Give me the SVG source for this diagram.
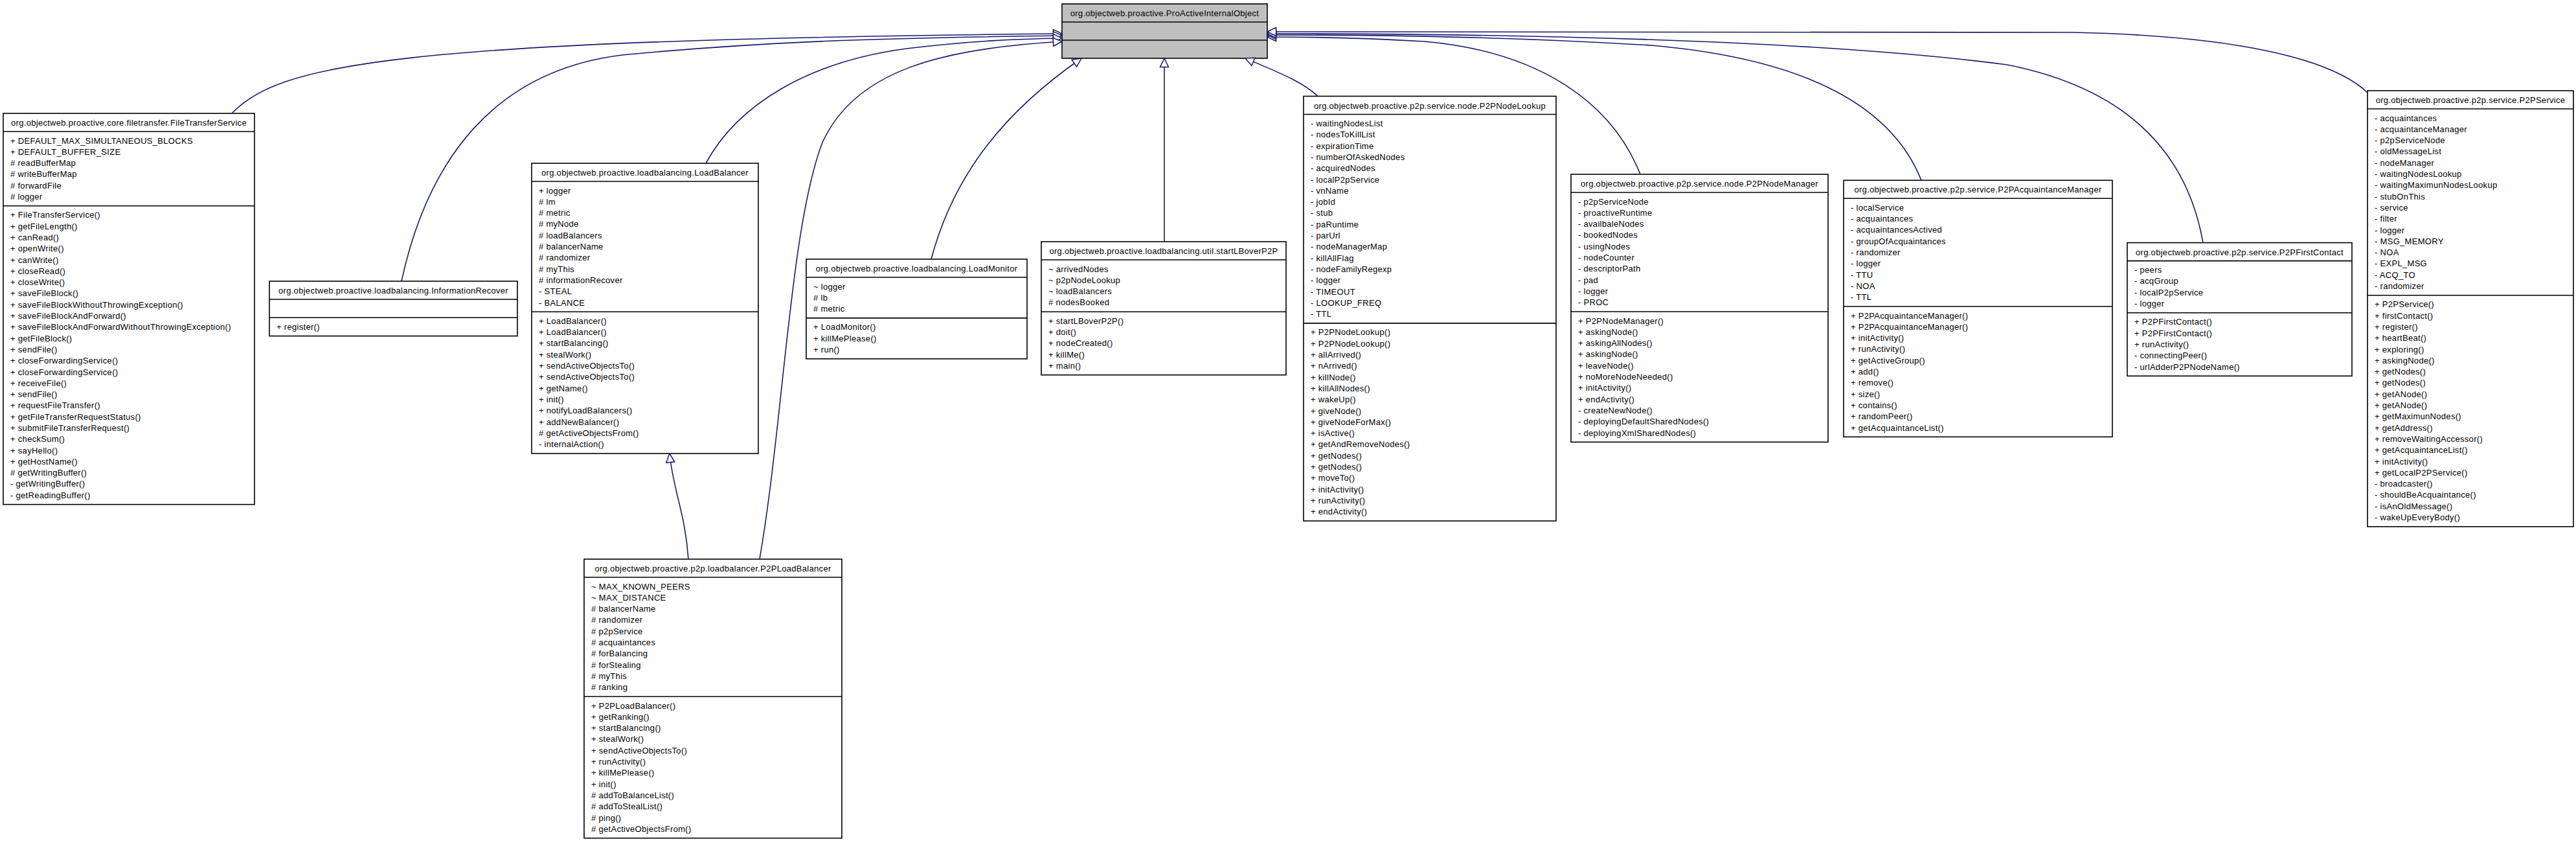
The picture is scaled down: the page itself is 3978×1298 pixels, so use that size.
<svg xmlns="http://www.w3.org/2000/svg" width="3978" height="1298" viewBox="0 0 3978 1298">
<style>
.bx{fill:#fff;stroke:#000;stroke-width:1.6}
.gr{fill:#bfbfbf;stroke:#000;stroke-width:1.6}
.dv{stroke:#000;stroke-width:1.6}
text{font-family:"Liberation Sans",Arial,sans-serif;font-size:13px;letter-spacing:0.3px;fill:#000}
.t{text-anchor:middle}
.e{fill:none;stroke:#191970;stroke-width:1.6}
</style>
<defs>
<marker id="gen" markerUnits="userSpaceOnUse" markerWidth="18" markerHeight="16" refX="15" refY="8" orient="auto">
<path d="M1.5,1.5 L15,8 L1.5,14.5 Z" fill="#fff" stroke="#191970" stroke-width="1.5"/>
</marker>
</defs>
<rect width="3978" height="1298" fill="#fff"/>

<g id="ProActiveInternalObject">
<rect class="gr" x="1640" y="6" width="317" height="84"/>
<line class="dv" x1="1640" y1="34" x2="1957" y2="34"/>
<line class="dv" x1="1640" y1="62" x2="1957" y2="62"/>
<text class="t" x="1798.5" y="25">org.objectweb.proactive.ProActiveInternalObject</text>
</g>

<g id="FileTransferService">
<rect class="bx" x="5" y="175" width="388" height="603.6"/>
<line class="dv" x1="5" y1="203" x2="393" y2="203"/>
<line class="dv" x1="5" y1="317.8" x2="393" y2="317.8"/>
<text class="t" x="199" y="194">org.objectweb.proactive.core.filetransfer.FileTransferService</text>
<text x="16" y="221.5"><tspan x="16">+ DEFAULT_MAX_SIMULTANEOUS_BLOCKS</tspan><tspan x="16" dy="17.3">+ DEFAULT_BUFFER_SIZE</tspan><tspan x="16" dy="17.3"># readBufferMap</tspan><tspan x="16" dy="17.3"># writeBufferMap</tspan><tspan x="16" dy="17.3"># forwardFile</tspan><tspan x="16" dy="17.3"># logger</tspan></text>
<text x="16" y="336.3"><tspan x="16">+ FileTransferService()</tspan><tspan x="16" dy="17.3">+ getFileLength()</tspan><tspan x="16" dy="17.3">+ canRead()</tspan><tspan x="16" dy="17.3">+ openWrite()</tspan><tspan x="16" dy="17.3">+ canWrite()</tspan><tspan x="16" dy="17.3">+ closeRead()</tspan><tspan x="16" dy="17.3">+ closeWrite()</tspan><tspan x="16" dy="17.3">+ saveFileBlock()</tspan><tspan x="16" dy="17.3">+ saveFileBlockWithoutThrowingException()</tspan><tspan x="16" dy="17.3">+ saveFileBlockAndForward()</tspan><tspan x="16" dy="17.3">+ saveFileBlockAndForwardWithoutThrowingException()</tspan><tspan x="16" dy="17.3">+ getFileBlock()</tspan><tspan x="16" dy="17.3">+ sendFile()</tspan><tspan x="16" dy="17.3">+ closeForwardingService()</tspan><tspan x="16" dy="17.3">+ closeForwardingService()</tspan><tspan x="16" dy="17.3">+ receiveFile()</tspan><tspan x="16" dy="17.3">+ sendFile()</tspan><tspan x="16" dy="17.3">+ requestFileTransfer()</tspan><tspan x="16" dy="17.3">+ getFileTransferRequestStatus()</tspan><tspan x="16" dy="17.3">+ submitFileTransferRequest()</tspan><tspan x="16" dy="17.3">+ checkSum()</tspan><tspan x="16" dy="17.3">+ sayHello()</tspan><tspan x="16" dy="17.3">+ getHostName()</tspan><tspan x="16" dy="17.3"># getWritingBuffer()</tspan><tspan x="16" dy="17.3">- getWritingBuffer()</tspan><tspan x="16" dy="17.3">- getReadingBuffer()</tspan></text>
</g>

<g id="InformationRecover">
<rect class="bx" x="416" y="434" width="383" height="84.6"/>
<line class="dv" x1="416" y1="462" x2="799" y2="462"/>
<line class="dv" x1="416" y1="490.3" x2="799" y2="490.3"/>
<text class="t" x="607.5" y="453">org.objectweb.proactive.loadbalancing.InformationRecover</text>
<text x="427" y="508.8">+ register()</text>
</g>

<g id="LoadBalancer">
<rect class="bx" x="821" y="252" width="350" height="447.9"/>
<line class="dv" x1="821" y1="280" x2="1171" y2="280"/>
<line class="dv" x1="821" y1="481.3" x2="1171" y2="481.3"/>
<text class="t" x="996" y="271">org.objectweb.proactive.loadbalancing.LoadBalancer</text>
<text x="832" y="298.5"><tspan x="832">+ logger</tspan><tspan x="832" dy="17.3"># lm</tspan><tspan x="832" dy="17.3"># metric</tspan><tspan x="832" dy="17.3"># myNode</tspan><tspan x="832" dy="17.3"># loadBalancers</tspan><tspan x="832" dy="17.3"># balancerName</tspan><tspan x="832" dy="17.3"># randomizer</tspan><tspan x="832" dy="17.3"># myThis</tspan><tspan x="832" dy="17.3"># informationRecover</tspan><tspan x="832" dy="17.3">- STEAL</tspan><tspan x="832" dy="17.3">- BALANCE</tspan></text>
<text x="832" y="499.8"><tspan x="832">+ LoadBalancer()</tspan><tspan x="832" dy="17.3">+ LoadBalancer()</tspan><tspan x="832" dy="17.3">+ startBalancing()</tspan><tspan x="832" dy="17.3">+ stealWork()</tspan><tspan x="832" dy="17.3">+ sendActiveObjectsTo()</tspan><tspan x="832" dy="17.3">+ sendActiveObjectsTo()</tspan><tspan x="832" dy="17.3">+ getName()</tspan><tspan x="832" dy="17.3">+ init()</tspan><tspan x="832" dy="17.3">+ notifyLoadBalancers()</tspan><tspan x="832" dy="17.3">+ addNewBalancer()</tspan><tspan x="832" dy="17.3"># getActiveObjectsFrom()</tspan><tspan x="832" dy="17.3">- internalAction()</tspan></text>
</g>

<g id="P2PLoadBalancer">
<rect class="bx" x="902" y="863" width="398" height="430.6"/>
<line class="dv" x1="902" y1="891" x2="1300" y2="891"/>
<line class="dv" x1="902" y1="1075" x2="1300" y2="1075"/>
<text class="t" x="1101" y="882">org.objectweb.proactive.p2p.loadbalancer.P2PLoadBalancer</text>
<text x="913" y="909.5"><tspan x="913">~ MAX_KNOWN_PEERS</tspan><tspan x="913" dy="17.3">~ MAX_DISTANCE</tspan><tspan x="913" dy="17.3"># balancerName</tspan><tspan x="913" dy="17.3"># randomizer</tspan><tspan x="913" dy="17.3"># p2pService</tspan><tspan x="913" dy="17.3"># acquaintances</tspan><tspan x="913" dy="17.3"># forBalancing</tspan><tspan x="913" dy="17.3"># forStealing</tspan><tspan x="913" dy="17.3"># myThis</tspan><tspan x="913" dy="17.3"># ranking</tspan></text>
<text x="913" y="1093.5"><tspan x="913">+ P2PLoadBalancer()</tspan><tspan x="913" dy="17.3">+ getRanking()</tspan><tspan x="913" dy="17.3">+ startBalancing()</tspan><tspan x="913" dy="17.3">+ stealWork()</tspan><tspan x="913" dy="17.3">+ sendActiveObjectsTo()</tspan><tspan x="913" dy="17.3">+ runActivity()</tspan><tspan x="913" dy="17.3">+ killMePlease()</tspan><tspan x="913" dy="17.3">+ init()</tspan><tspan x="913" dy="17.3"># addToBalanceList()</tspan><tspan x="913" dy="17.3"># addToStealList()</tspan><tspan x="913" dy="17.3"># ping()</tspan><tspan x="913" dy="17.3"># getActiveObjectsFrom()</tspan></text>
</g>

<g id="LoadMonitor">
<rect class="bx" x="1245" y="400" width="341" height="153.8"/>
<line class="dv" x1="1245" y1="428" x2="1586" y2="428"/>
<line class="dv" x1="1245" y1="490.9" x2="1586" y2="490.9"/>
<text class="t" x="1415.5" y="419">org.objectweb.proactive.loadbalancing.LoadMonitor</text>
<text x="1256" y="446.5"><tspan x="1256">~ logger</tspan><tspan x="1256" dy="17.3"># lb</tspan><tspan x="1256" dy="17.3"># metric</tspan></text>
<text x="1256" y="509.4"><tspan x="1256">+ LoadMonitor()</tspan><tspan x="1256" dy="17.3">+ killMePlease()</tspan><tspan x="1256" dy="17.3">+ run()</tspan></text>
</g>

<g id="startLBoverP2P">
<rect class="bx" x="1608" y="373" width="378" height="205.7"/>
<line class="dv" x1="1608" y1="401" x2="1986" y2="401"/>
<line class="dv" x1="1608" y1="481.2" x2="1986" y2="481.2"/>
<text class="t" x="1797" y="392">org.objectweb.proactive.loadbalancing.util.startLBoverP2P</text>
<text x="1619" y="419.5"><tspan x="1619">~ arrivedNodes</tspan><tspan x="1619" dy="17.3">~ p2pNodeLookup</tspan><tspan x="1619" dy="17.3">~ loadBalancers</tspan><tspan x="1619" dy="17.3"># nodesBooked</tspan></text>
<text x="1619" y="499.7"><tspan x="1619">+ startLBoverP2P()</tspan><tspan x="1619" dy="17.3">+ doit()</tspan><tspan x="1619" dy="17.3">+ nodeCreated()</tspan><tspan x="1619" dy="17.3">+ killMe()</tspan><tspan x="1619" dy="17.3">+ main()</tspan></text>
</g>

<g id="P2PNodeLookup">
<rect class="bx" x="2013" y="148.5" width="390" height="655.5"/>
<line class="dv" x1="2013" y1="176.5" x2="2403" y2="176.5"/>
<line class="dv" x1="2013" y1="498.9" x2="2403" y2="498.9"/>
<text class="t" x="2208" y="167.5">org.objectweb.proactive.p2p.service.node.P2PNodeLookup</text>
<text x="2024" y="195"><tspan x="2024">- waitingNodesList</tspan><tspan x="2024" dy="17.3">- nodesToKillList</tspan><tspan x="2024" dy="17.3">- expirationTime</tspan><tspan x="2024" dy="17.3">- numberOfAskedNodes</tspan><tspan x="2024" dy="17.3">- acquiredNodes</tspan><tspan x="2024" dy="17.3">- localP2pService</tspan><tspan x="2024" dy="17.3">- vnName</tspan><tspan x="2024" dy="17.3">- jobId</tspan><tspan x="2024" dy="17.3">- stub</tspan><tspan x="2024" dy="17.3">- paRuntime</tspan><tspan x="2024" dy="17.3">- parUrl</tspan><tspan x="2024" dy="17.3">- nodeManagerMap</tspan><tspan x="2024" dy="17.3">- killAllFlag</tspan><tspan x="2024" dy="17.3">- nodeFamilyRegexp</tspan><tspan x="2024" dy="17.3">- logger</tspan><tspan x="2024" dy="17.3">- TIMEOUT</tspan><tspan x="2024" dy="17.3">- LOOKUP_FREQ</tspan><tspan x="2024" dy="17.3">- TTL</tspan></text>
<text x="2024" y="517.4"><tspan x="2024">+ P2PNodeLookup()</tspan><tspan x="2024" dy="17.3">+ P2PNodeLookup()</tspan><tspan x="2024" dy="17.3">+ allArrived()</tspan><tspan x="2024" dy="17.3">+ nArrived()</tspan><tspan x="2024" dy="17.3">+ killNode()</tspan><tspan x="2024" dy="17.3">+ killAllNodes()</tspan><tspan x="2024" dy="17.3">+ wakeUp()</tspan><tspan x="2024" dy="17.3">+ giveNode()</tspan><tspan x="2024" dy="17.3">+ giveNodeForMax()</tspan><tspan x="2024" dy="17.3">+ isActive()</tspan><tspan x="2024" dy="17.3">+ getAndRemoveNodes()</tspan><tspan x="2024" dy="17.3">+ getNodes()</tspan><tspan x="2024" dy="17.3">+ getNodes()</tspan><tspan x="2024" dy="17.3">+ moveTo()</tspan><tspan x="2024" dy="17.3">+ initActivity()</tspan><tspan x="2024" dy="17.3">+ runActivity()</tspan><tspan x="2024" dy="17.3">+ endActivity()</tspan></text>
</g>

<g id="P2PNodeManager">
<rect class="bx" x="2426" y="269" width="397" height="413.3"/>
<line class="dv" x1="2426" y1="297" x2="2823" y2="297"/>
<line class="dv" x1="2426" y1="481" x2="2823" y2="481"/>
<text class="t" x="2624.5" y="288">org.objectweb.proactive.p2p.service.node.P2PNodeManager</text>
<text x="2437" y="315.5"><tspan x="2437">- p2pServiceNode</tspan><tspan x="2437" dy="17.3">- proactiveRuntime</tspan><tspan x="2437" dy="17.3">- availbaleNodes</tspan><tspan x="2437" dy="17.3">- bookedNodes</tspan><tspan x="2437" dy="17.3">- usingNodes</tspan><tspan x="2437" dy="17.3">- nodeCounter</tspan><tspan x="2437" dy="17.3">- descriptorPath</tspan><tspan x="2437" dy="17.3">- pad</tspan><tspan x="2437" dy="17.3">- logger</tspan><tspan x="2437" dy="17.3">- PROC</tspan></text>
<text x="2437" y="499.5"><tspan x="2437">+ P2PNodeManager()</tspan><tspan x="2437" dy="17.3">+ askingNode()</tspan><tspan x="2437" dy="17.3">+ askingAllNodes()</tspan><tspan x="2437" dy="17.3">+ askingNode()</tspan><tspan x="2437" dy="17.3">+ leaveNode()</tspan><tspan x="2437" dy="17.3">+ noMoreNodeNeeded()</tspan><tspan x="2437" dy="17.3">+ initActivity()</tspan><tspan x="2437" dy="17.3">+ endActivity()</tspan><tspan x="2437" dy="17.3">- createNewNode()</tspan><tspan x="2437" dy="17.3">- deployingDefaultSharedNodes()</tspan><tspan x="2437" dy="17.3">- deployingXmlSharedNodes()</tspan></text>
</g>

<g id="P2PAcquaintanceManager">
<rect class="bx" x="2847" y="278.3" width="415" height="396"/>
<line class="dv" x1="2847" y1="306.3" x2="3262" y2="306.3"/>
<line class="dv" x1="2847" y1="473" x2="3262" y2="473"/>
<text class="t" x="3054.5" y="297.3">org.objectweb.proactive.p2p.service.P2PAcquaintanceManager</text>
<text x="2858" y="324.8"><tspan x="2858">- localService</tspan><tspan x="2858" dy="17.3">- acquaintances</tspan><tspan x="2858" dy="17.3">- acquaintancesActived</tspan><tspan x="2858" dy="17.3">- groupOfAcquaintances</tspan><tspan x="2858" dy="17.3">- randomizer</tspan><tspan x="2858" dy="17.3">- logger</tspan><tspan x="2858" dy="17.3">- TTU</tspan><tspan x="2858" dy="17.3">- NOA</tspan><tspan x="2858" dy="17.3">- TTL</tspan></text>
<text x="2858" y="491.5"><tspan x="2858">+ P2PAcquaintanceManager()</tspan><tspan x="2858" dy="17.3">+ P2PAcquaintanceManager()</tspan><tspan x="2858" dy="17.3">+ initActivity()</tspan><tspan x="2858" dy="17.3">+ runActivity()</tspan><tspan x="2858" dy="17.3">+ getActiveGroup()</tspan><tspan x="2858" dy="17.3">+ add()</tspan><tspan x="2858" dy="17.3">+ remove()</tspan><tspan x="2858" dy="17.3">+ size()</tspan><tspan x="2858" dy="17.3">+ contains()</tspan><tspan x="2858" dy="17.3">+ randomPeer()</tspan><tspan x="2858" dy="17.3">+ getAcquaintanceList()</tspan></text>
</g>

<g id="P2PFirstContact">
<rect class="bx" x="3285" y="374.6" width="347" height="205.7"/>
<line class="dv" x1="3285" y1="402.6" x2="3632" y2="402.6"/>
<line class="dv" x1="3285" y1="482.8" x2="3632" y2="482.8"/>
<text class="t" x="3458.5" y="393.6">org.objectweb.proactive.p2p.service.P2PFirstContact</text>
<text x="3296" y="421.1"><tspan x="3296">- peers</tspan><tspan x="3296" dy="17.3">- acqGroup</tspan><tspan x="3296" dy="17.3">- localP2pService</tspan><tspan x="3296" dy="17.3">- logger</tspan></text>
<text x="3296" y="501.3"><tspan x="3296">+ P2PFirstContact()</tspan><tspan x="3296" dy="17.3">+ P2PFirstContact()</tspan><tspan x="3296" dy="17.3">+ runActivity()</tspan><tspan x="3296" dy="17.3">- connectingPeer()</tspan><tspan x="3296" dy="17.3">- urlAdderP2PNodeName()</tspan></text>
</g>

<g id="P2PService">
<rect class="bx" x="3656" y="140" width="318" height="672.8"/>
<line class="dv" x1="3656" y1="168" x2="3974" y2="168"/>
<line class="dv" x1="3656" y1="455.8" x2="3974" y2="455.8"/>
<text class="t" x="3815" y="159">org.objectweb.proactive.p2p.service.P2PService</text>
<text x="3667" y="186.5"><tspan x="3667">- acquaintances</tspan><tspan x="3667" dy="17.3">- acquaintanceManager</tspan><tspan x="3667" dy="17.3">- p2pServiceNode</tspan><tspan x="3667" dy="17.3">- oldMessageList</tspan><tspan x="3667" dy="17.3">- nodeManager</tspan><tspan x="3667" dy="17.3">- waitingNodesLookup</tspan><tspan x="3667" dy="17.3">- waitingMaximunNodesLookup</tspan><tspan x="3667" dy="17.3">- stubOnThis</tspan><tspan x="3667" dy="17.3">- service</tspan><tspan x="3667" dy="17.3">- filter</tspan><tspan x="3667" dy="17.3">- logger</tspan><tspan x="3667" dy="17.3">- MSG_MEMORY</tspan><tspan x="3667" dy="17.3">- NOA</tspan><tspan x="3667" dy="17.3">- EXPL_MSG</tspan><tspan x="3667" dy="17.3">- ACQ_TO</tspan><tspan x="3667" dy="17.3">- randomizer</tspan></text>
<text x="3667" y="474.3"><tspan x="3667">+ P2PService()</tspan><tspan x="3667" dy="17.3">+ firstContact()</tspan><tspan x="3667" dy="17.3">+ register()</tspan><tspan x="3667" dy="17.3">+ heartBeat()</tspan><tspan x="3667" dy="17.3">+ exploring()</tspan><tspan x="3667" dy="17.3">+ askingNode()</tspan><tspan x="3667" dy="17.3">+ getNodes()</tspan><tspan x="3667" dy="17.3">+ getNodes()</tspan><tspan x="3667" dy="17.3">+ getANode()</tspan><tspan x="3667" dy="17.3">+ getANode()</tspan><tspan x="3667" dy="17.3">+ getMaximunNodes()</tspan><tspan x="3667" dy="17.3">+ getAddress()</tspan><tspan x="3667" dy="17.3">+ removeWaitingAccessor()</tspan><tspan x="3667" dy="17.3">+ getAcquaintanceList()</tspan><tspan x="3667" dy="17.3">+ initActivity()</tspan><tspan x="3667" dy="17.3">+ getLocalP2PService()</tspan><tspan x="3667" dy="17.3">- broadcaster()</tspan><tspan x="3667" dy="17.3">- shouldBeAcquaintance()</tspan><tspan x="3667" dy="17.3">- isAnOldMessage()</tspan><tspan x="3667" dy="17.3">- wakeUpEveryBody()</tspan></text>
</g>

<g id="connectors">
<path class="e" marker-end="url(#gen)" d="M358,175 C430,100 600,62 1640,52"/>
<path class="e" marker-end="url(#gen)" d="M620,434 C660,250 760,110 960,85 C1200,62 1400,58 1640,55"/>
<path class="e" marker-end="url(#gen)" d="M1090,252 C1140,160 1250,95 1400,75 C1500,63 1570,60 1640,59"/>
<path class="e" marker-end="url(#gen)" d="M1173,863 C1210,650 1220,350 1270,220 C1320,110 1450,75 1640,64"/>
<path class="e" marker-end="url(#gen)" d="M1063,863 C1058,790 1040,760 1034,700"/>
<path class="e" marker-end="url(#gen)" d="M1438,400 C1470,280 1540,180 1670,90"/>
<path class="e" marker-end="url(#gen)" d="M1798,373 L1798,90"/>
<path class="e" marker-end="url(#gen)" d="M2035,148.5 C2010,125 1970,110 1923,90"/>
<path class="e" marker-end="url(#gen)" d="M2533,269 C2490,160 2380,80 2200,64 C2100,58 2020,57 1957,57"/>
<path class="e" marker-end="url(#gen)" d="M2967,278.3 C2920,160 2780,90 2550,70 C2300,55 2100,54 1957,54"/>
<path class="e" marker-end="url(#gen)" d="M3402,374.6 C3380,250 3300,140 3100,100 C2800,60 2300,52 1957,52"/>
<path class="e" marker-end="url(#gen)" d="M3656,143 C3600,90 3450,55 3200,50 C2700,46 2200,49 1957,49"/>
</g>
</svg>
